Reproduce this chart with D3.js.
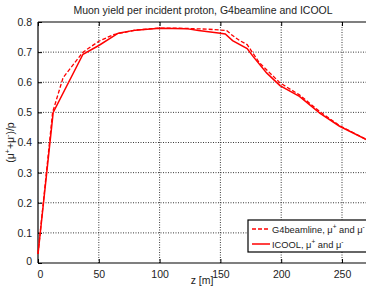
<!DOCTYPE html>
<html>
<head>
<meta charset="utf-8">
<script src="https://cdn.jsdelivr.net/npm/d3@7"></script>
<style>
  body { margin: 0; background: white; }
  svg { font-family: "Liberation Sans", Arial, sans-serif; }
</style>
</head>
<body>
<div class="yield-plot"></div>
<script>
// ICOOL (solid)
const zIcool = [0, 12.5, 37, 50, 66, 80, 100, 122, 132, 150, 154, 160, 172, 177, 188, 199, 215, 232, 248, 270];
const yIcool = [0.03, 0.5, 0.693, 0.722, 0.763, 0.773, 0.779, 0.778, 0.772, 0.763, 0.76, 0.738, 0.712, 0.685, 0.631, 0.589, 0.553, 0.497, 0.454, 0.41];
// G4beamline (dashed)
const zG4 = [0, 12, 20.6, 37, 50, 62, 80, 100, 120, 140, 155, 160, 166, 172, 182, 199, 215, 232, 248, 270];
const yG4 = [0.03, 0.5, 0.615, 0.70, 0.736, 0.758, 0.773, 0.78, 0.779, 0.776, 0.772, 0.755, 0.738, 0.725, 0.665, 0.598, 0.558, 0.502, 0.456, 0.41];

const xTicks = [0, 50, 100, 150, 200, 250];
const yTicks = [0, 0.1, 0.2, 0.3, 0.4, 0.5, 0.6, 0.7, 0.8];
const legendLabels = ["G4beamline, \u03bc", "ICOOL, \u03bc"];

const icool = zIcool.map((z, i) => ({z: z, y: yIcool[i]}));
const g4 = zG4.map((z, i) => ({z: z, y: yG4[i]}));

const outerWidth = 366;
const outerHeight = 286;
const margin = {top: 22, left: 38, bottom: 23, right: -2};
const width = outerWidth - margin.left - margin.right;
const height = outerHeight - margin.top - margin.bottom;

const svg = d3.select('.yield-plot')
    .append('svg')
    .attr('width', outerWidth)
    .attr('height', outerHeight);

const g = svg.append('g')
    .attr('transform', `translate(${margin.left}, ${margin.top})`);

const xScale = d3.scaleLinear().domain([0, 250]).range([0, 304]);
const yScale = d3.scaleLinear().domain([0, 0.8]).range([height, 0]);

// grid
g.append('g')
    .selectAll('line')
    .data(xTicks.slice(1))
    .enter().append('line')
    .attr('x1', d => xScale(d)).attr('x2', d => xScale(d))
    .attr('y1', 0).attr('y2', height)
    .attr('stroke', '#222').attr('stroke-width', 0.9)
    .attr('stroke-dasharray', '1,1.5');
g.append('g')
    .selectAll('line')
    .data(yTicks.slice(1, -1))
    .enter().append('line')
    .attr('x1', 0).attr('x2', width)
    .attr('y1', d => yScale(d)).attr('y2', d => yScale(d))
    .attr('stroke', '#222').attr('stroke-width', 0.9)
    .attr('stroke-dasharray', '1,1.5');

// axes
const xAxis = d3.axisBottom(xScale).tickValues(xTicks).tickSize(-4).tickPadding(6);
const xAxisTop = d3.axisTop(xScale).tickValues(xTicks).tickSize(-4).tickFormat('');
const yAxis = d3.axisLeft(yScale).tickValues(yTicks).tickSize(-4).tickPadding(6)
    .tickFormat(d => d === 0 ? '0' : d3.format('.1f')(d));

g.append('g')
    .attr('transform', `translate(0, ${height})`)
    .call(xAxis)
    .call(a => a.select('.domain').attr('d', `M0,0H${width}`).attr('stroke-width', 1.2))
    .call(a => a.selectAll('.tick text').attr('font-size', 10.5).attr('fill', '#222').attr('dy', '0.9em'))
    .call(a => a.selectAll('.tick').filter(d => d === 0).select('text').attr('dx', 2));

g.append('g')
    .call(xAxisTop)
    .call(a => a.select('.domain').attr('d', `M0,0H${width}`).attr('stroke-width', 1.2));

g.append('g')
    .call(yAxis)
    .call(a => a.select('.domain').attr('d', `M0,0V${height}`).attr('stroke-width', 1.2))
    .call(a => a.selectAll('.tick text').attr('font-size', 10.5).attr('fill', '#222'))
    .call(a => a.selectAll('.tick').filter(d => d === 0).select('text').attr('dy', '0.1em'));

// curves
const line = d3.line()
    .x(d => xScale(d.z))
    .y(d => yScale(d.y));

g.append('path')
    .datum(g4)
    .attr('fill', 'none')
    .attr('stroke', '#ff0000')
    .attr('stroke-width', 1.3)
    .attr('stroke-dasharray', '4,2')
    .attr('d', line);

g.append('path')
    .datum(icool)
    .attr('fill', 'none')
    .attr('stroke', '#ff0000')
    .attr('stroke-width', 1.5)
    .attr('d', line);

// title and labels
svg.append('text')
    .attr('x', 203).attr('y', 14)
    .attr('text-anchor', 'middle')
    .attr('font-size', 10.5)
    .attr('fill', '#222')
    .text('Muon yield per incident proton, G4beamline and ICOOL');

svg.append('text')
    .attr('x', 202).attr('y', 284)
    .attr('text-anchor', 'middle')
    .attr('font-size', 10.5)
    .attr('fill', '#222')
    .text('z [m]');

const yl = svg.append('text')
    .attr('transform', `translate(14, ${margin.top + height / 2}) rotate(-90)`)
    .attr('text-anchor', 'middle')
    .attr('font-size', 10.5)
    .attr('fill', '#222');
yl.append('tspan').text('(\u03bc');
yl.append('tspan').attr('font-size', 7).attr('dy', -4).text('+');
yl.append('tspan').attr('dy', 4).text('+\u03bc');
yl.append('tspan').attr('font-size', 7).attr('dy', -4).text('-');
yl.append('tspan').attr('dy', 4).text(')/p');

// legend
const leg = svg.append('g').attr('transform', 'translate(248, 220)');
leg.append('rect')
    .attr('width', 130).attr('height', 32)
    .attr('fill', 'white').attr('stroke', '#000').attr('stroke-width', 1.2);

const entries = leg.selectAll('.entry')
    .data(legendLabels)
    .enter().append('g')
    .attr('transform', (d, i) => `translate(0, ${9 + i * 15})`);

entries.append('line')
    .attr('x1', 4).attr('x2', 22)
    .attr('stroke', '#ff0000')
    .attr('stroke-width', (d, i) => i === 0 ? 1.3 : 1.5)
    .attr('stroke-dasharray', (d, i) => i === 0 ? '4,2' : null);

const lt = entries.append('text')
    .attr('x', 24).attr('y', 3.5)
    .attr('font-size', 9.3)
    .attr('fill', '#222');
lt.append('tspan').text(d => d);
lt.append('tspan').attr('font-size', 6.5).attr('dy', -4).text('+');
lt.append('tspan').attr('dy', 4).text(' and \u03bc');
lt.append('tspan').attr('font-size', 6.5).attr('dy', -4).text('-');
</script>
</body>
</html>
